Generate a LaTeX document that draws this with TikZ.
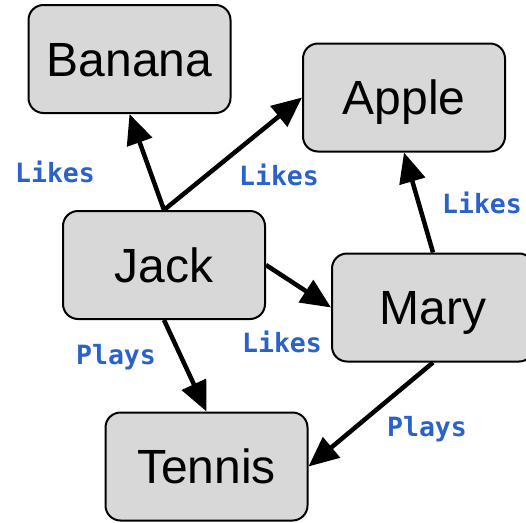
\documentclass[tikz,border=0pt]{standalone}
\usepackage{fontspec}
\setmainfont{Liberation Sans}
\newfontfamily\labelfont{DejaVu Sans Mono}
\usetikzlibrary{arrows.meta}
\definecolor{boxfill}{HTML}{D8D8D8}
\definecolor{labelblue}{HTML}{2B62C9}
\tikzset{
  entity/.style={draw=black, line width=2pt, fill=boxfill, rounded corners=15pt,
    minimum width=202pt, minimum height=108pt, inner sep=0pt,
    text height=34.4pt, text depth=0pt,
    font=\fontsize{48}{56}\selectfont},
  rel/.style={line width=4.5pt, -{Triangle[length=30pt,width=26pt]}},
  rellabel/.style={inner sep=0pt, text=labelblue, font=\labelfont\bfseries\fontsize{26.5}{30}\selectfont}
}
\begin{document}
\begin{tikzpicture}[x=1pt,y=-1pt]
\useasboundingbox (0,0) rectangle (526,522);
\begin{scope}
\clip (0,0) rectangle (526,522);
\node[entity] (banana) at (129.5,59) {Banana};
\node[entity] (apple) at (404,97.5) {Apple};
\node[entity] (jack) at (164,265) {Jack};
\node[entity] (mary) at (433,307.5) {Mary};
\node[entity] (tennis) at (206.5,466.5) {Tennis};

\draw[rel] (jack.north) -- (banana.south);
\draw[rel] (jack.north) -- (apple.west);
\draw[rel] (jack.east) -- (mary.west);
\draw[rel] (jack.south) -- (tennis.north);
\draw[rel] (mary.north) -- (apple.south);
\draw[rel] (mary.south) -- (tennis.east);

\node[rellabel] (l1) at (55,172) {Likes};
\node[rellabel] (l2) at (279,175) {Likes};
\node[rellabel] (l3) at (482,203) {Likes};
\node[rellabel] (l4) at (282,342) {Likes};
\node[rellabel] (p1) at (116,357) {Plays};
\node[rellabel] (p2) at (427,429) {Plays};
\end{scope}
\end{tikzpicture}
\end{document}
